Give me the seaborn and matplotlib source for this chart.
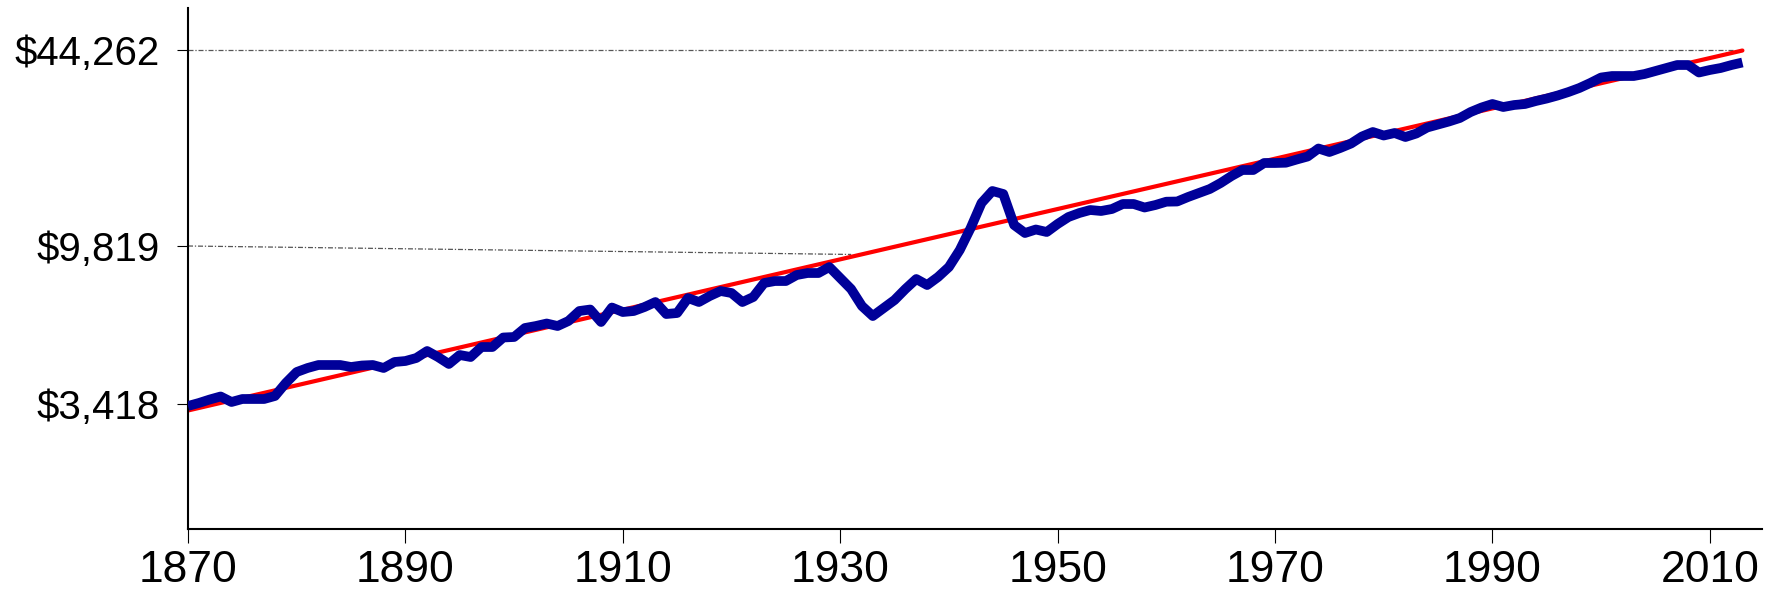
import numpy as np
import pandas as pd
import matplotlib
matplotlib.use("Agg")
import matplotlib.pyplot as plt
from matplotlib.ticker import NullLocator, FixedLocator
import seaborn as sns

years = list(range(1870, 2014))
gdp = [
    3373, 3441, 3522, 3594, 3464, 3534, 3534, 3534, 3606, 3933,
    4232, 4347, 4435, 4435, 4435, 4376, 4420, 4435, 4347, 4525,
    4555, 4647, 4869, 4678, 4465, 4741, 4678, 5001, 5001, 5329,
    5347, 5678, 5754, 5851, 5754, 5950, 6360, 6424, 5910, 6511,
    6318, 6360, 6533, 6754, 6234, 6276, 6937, 6754, 7031, 7269,
    7173, 6754, 6984, 7668, 7771, 7771, 8089, 8198, 8198, 8533,
    7928, 7367, 6576, 6151, 6489, 6845, 7367, 7876, 7566, 7982,
    8533, 9559, 11275, 13662, 14982, 14641, 11538, 10850, 11146, 10934,
    11627, 12269, 12652, 12947, 12848, 13047, 13558, 13558, 13198, 13454,
    13800, 13821, 14307, 14753, 15214, 15931, 16812, 17604, 17604, 18577,
    18577, 18620, 19083, 19528, 20766, 20215, 20846, 21580, 22772, 23573,
    22947, 23392, 22684, 23302, 24402, 24971, 25553, 26249, 27487, 28455,
    29230, 28564, 29006, 29230, 29911, 30491, 31202, 32053, 33052, 34347,
    35829, 36244, 36244, 36244, 36806, 37664, 38542, 39440, 39440, 37233,
    37955, 38542, 39440, 40205,
]

# trend line (exponential trend, straight on the chart)
trend_years = [1870, 1935.3, 2013]
trend_values = [3273, 9819, 44087]

# labelled values on the y axis
tick_values = [3418, 9819, 44262]
tick_labels = [r"\$3,418", r"\$9,819", r"\$44,262"]
x_ticks = [1870, 1890, 1910, 1930, 1950, 1970, 1990, 2010]

# dotted guide lines from the axis to the trend line
guide_low_years = [1870, 1931]
guide_low_values = [9819, 9280]
guide_high_years = [1870, 2012.3]
guide_high_values = [44262, 44262]

df = pd.DataFrame({"year": years, "gdp": gdp})
trend = pd.DataFrame({"year": trend_years, "gdp": trend_values})

sns.set_style("white")
plt.rcParams["font.family"] = ["Liberation Sans", "DejaVu Sans"]

# the original axis is a hand-spaced log axis: piecewise log scale
knot_logs = np.log(np.array(tick_values, dtype=float))
knot_h = np.array([125.0, 283.0, 479.0])
lo_slope = (knot_h[1] - knot_h[0]) / (knot_logs[1] - knot_logs[0])
hi_slope = (knot_h[2] - knot_h[1]) / (knot_logs[2] - knot_logs[1])


def fwd(v):
    L = np.log(np.clip(np.asarray(v, dtype=float), 1e-9, None))
    h = np.interp(L, knot_logs, knot_h)
    h = np.where(L < knot_logs[0], knot_h[0] + (L - knot_logs[0]) * lo_slope, h)
    h = np.where(L > knot_logs[-1], knot_h[-1] + (L - knot_logs[-1]) * hi_slope, h)
    return h


def inv(h):
    h = np.asarray(h, dtype=float)
    L = np.interp(h, knot_h, knot_logs)
    L = np.where(h < knot_h[0], knot_logs[0] + (h - knot_h[0]) / lo_slope, L)
    L = np.where(h > knot_h[-1], knot_logs[-1] + (h - knot_h[-1]) / hi_slope, L)
    return np.exp(L)


fig = plt.figure(figsize=(17.76, 6), dpi=100)
ax = fig.add_axes([188 / 1776, 71 / 600, 1574 / 1776, 521 / 600])
ax.set_yscale("function", functions=(fwd, inv))

ax.plot(guide_high_years, guide_high_values, color="#555555", lw=0.9,
        linestyle=(0, (4, 1.5, 1, 1.5)), zorder=1)
ax.plot(guide_low_years, guide_low_values, color="#555555", lw=0.9,
        linestyle=(0, (4, 1.5, 1, 1.5)), zorder=1)

sns.lineplot(data=trend, x="year", y="gdp", color="#ff0000", linewidth=3.0,
             ax=ax, zorder=2)
sns.lineplot(data=df, x="year", y="gdp", color="#000099", linewidth=7.0,
             ax=ax, zorder=3, solid_capstyle="butt")

ax.set_xlim(1870, 1870 + 1574 / 10.87)
ax.set_ylim(float(inv(0.0)), float(inv(521.0)))

ax.yaxis.set_major_locator(FixedLocator(tick_values))
ax.yaxis.set_minor_locator(NullLocator())
ax.set_yticklabels(tick_labels)
ax.set_xticks(x_ticks)
ax.set_xticklabels([str(x) for x in x_ticks])

ax.set_xlabel("")
ax.set_ylabel("")
for side in ["top", "right"]:
    ax.spines[side].set_visible(False)
for side in ["left", "bottom"]:
    ax.spines[side].set_color("black")
    ax.spines[side].set_linewidth(1.5)

ax.tick_params(axis="x", direction="out", length=10, width=0.8, color="black",
               labelcolor="black", labelsize=32, pad=5, bottom=True)
ax.tick_params(axis="y", direction="out", length=8, width=0.8, color="black",
               labelcolor="black", labelsize=29, pad=12, left=True)
ax.grid(False)

fig.savefig("out.png", dpi=100)
